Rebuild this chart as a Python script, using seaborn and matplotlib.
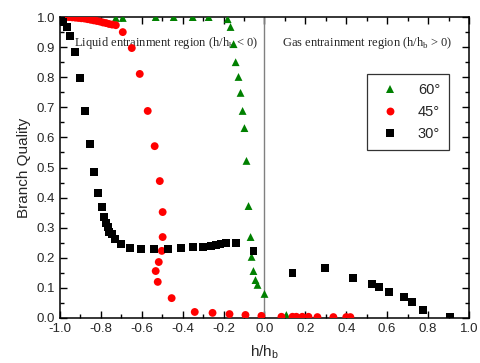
import numpy as np
import pandas as pd
import matplotlib
matplotlib.use("Agg")
import matplotlib.pyplot as plt
from matplotlib.ticker import MultipleLocator
import seaborn as sns

# %% Data (h/h_b vs branch quality)
x_60 = [-0.727, -0.693, -0.532, -0.444, -0.351, -0.273, -0.180, -0.166, -0.151,
        -0.141, -0.127, -0.117, -0.107, -0.098, -0.088, -0.078, -0.068, -0.063,
        -0.054, -0.044, -0.034, 0.000, 0.107]
y_60 = [0.997, 0.997, 1.000, 1.000, 1.000, 1.000, 0.993, 0.967, 0.910,
        0.850, 0.801, 0.748, 0.688, 0.631, 0.522, 0.372, 0.269, 0.203,
        0.156, 0.126, 0.110, 0.080, 0.010]

x_45 = [-0.985, -0.97, -0.955, -0.94, -0.925, -0.91, -0.895, -0.88, -0.865, -0.85,
        -0.835, -0.82, -0.805, -0.79, -0.775, -0.76, -0.745, -0.727, -0.693,
        -0.649, -0.610, -0.571, -0.537, -0.512, -0.498, -0.498, -0.502, -0.517,
        -0.532, -0.522, -0.454, -0.341, -0.254, -0.171, -0.093, -0.015,
        0.083, 0.137, 0.156, 0.185, 0.215, 0.259, 0.337, 0.400, 0.420]
y_45 = [1.000, 1.000, 1.000, 0.999, 0.998, 0.997, 0.996, 0.995, 0.993, 0.991,
        0.989, 0.987, 0.985, 0.982, 0.980, 0.977, 0.975, 0.973, 0.950,
        0.897, 0.811, 0.688, 0.571, 0.455, 0.352, 0.269, 0.223, 0.186,
        0.156, 0.120, 0.066, 0.020, 0.017, 0.013, 0.010, 0.007,
        0.004, 0.004, 0.004, 0.004, 0.004, 0.003, 0.003, 0.003, 0.003]

x_30 = [-0.995, -0.985, -0.966, -0.951, -0.927, -0.902, -0.878, -0.854, -0.834,
        -0.815, -0.795, -0.785, -0.776, -0.766, -0.761, -0.746, -0.732, -0.702,
        -0.659, -0.605, -0.541, -0.473, -0.410, -0.351, -0.302, -0.263, -0.239,
        -0.215, -0.190, -0.141, -0.054,
        0.137, 0.298, 0.434, 0.527, 0.561, 0.610, 0.683, 0.722, 0.776, 0.907]
y_30 = [0.990, 0.983, 0.967, 0.937, 0.884, 0.797, 0.688, 0.578, 0.485,
        0.415, 0.369, 0.336, 0.316, 0.302, 0.286, 0.279, 0.262, 0.246,
        0.233, 0.229, 0.229, 0.229, 0.233, 0.236, 0.236, 0.239, 0.243,
        0.246, 0.249, 0.249, 0.223,
        0.150, 0.166, 0.133, 0.113, 0.103, 0.086, 0.070, 0.053, 0.027, 0.003]

angles = ["60°", "45°", "30°"]
colors = {"60°": "#008000", "45°": "#ff0000", "30°": "#000000"}
markers = {"60°": "^", "45°": "o", "30°": "s"}

df = pd.concat([
    pd.DataFrame({"h": x_60, "q": y_60, "angle": "60°"}),
    pd.DataFrame({"h": x_45, "q": y_45, "angle": "45°"}),
    pd.DataFrame({"h": x_30, "q": y_30, "angle": "30°"}),
], ignore_index=True)

# %% Style
sns.set_style("ticks")
plt.rcParams["font.family"] = ["Liberation Sans", "DejaVu Sans"]
plt.rcParams["mathtext.fontset"] = "custom"
plt.rcParams["mathtext.rm"] = "Liberation Sans"
plt.rcParams["mathtext.it"] = "Liberation Sans"

fig, ax = plt.subplots(figsize=(4.8, 3.63), dpi=100)
fig.subplots_adjust(left=0.125, right=0.977, top=0.953, bottom=0.124)

sns.scatterplot(data=df, x="h", y="q", hue="angle", style="angle",
                hue_order=angles, style_order=angles,
                palette=colors, markers=markers, s=32, linewidth=0,
                ax=ax, legend=True, zorder=3)

ax.axvline(0, color="#808080", linewidth=1.0, zorder=1)

ax.set_xlim(-1.0, 1.0)
ax.set_ylim(0.0, 1.0)
ax.xaxis.set_major_locator(MultipleLocator(0.2))
ax.xaxis.set_minor_locator(MultipleLocator(0.1))
ax.yaxis.set_major_locator(MultipleLocator(0.1))
ax.yaxis.set_minor_locator(MultipleLocator(0.05))
ax.set_xticklabels([f"{v:.1f}" for v in ax.get_xticks()])
ax.set_yticklabels([f"{v:.1f}" for v in ax.get_yticks()])
ax.tick_params(which="both", direction="in", top=True, right=True,
               labelsize=9.5, width=1, color="black")
ax.tick_params(which="major", length=5)
ax.tick_params(which="minor", length=3)
for sp in ax.spines.values():
    sp.set_visible(True)
    sp.set_linewidth(1.1)
    sp.set_color("black")

ax.set_xlabel("h/h$_\\mathregular{b}$", fontsize=11, labelpad=6)
ax.set_ylabel("Branch Quality", fontsize=11, labelpad=4)

serif = ["Liberation Serif", "DejaVu Serif"]
ax.text(-0.93, 0.914, "Liquid entrainment region (h/h$_\\mathregular{b}$ < 0)",
        fontsize=9, family=serif, va="center", ha="left", zorder=2)
ax.text(0.088, 0.914, "Gas entrainment region (h/h$_\\mathregular{b}$ > 0)",
        fontsize=9, family=serif, va="center", ha="left", zorder=2)

handles, labels = ax.get_legend_handles_labels()
leg = ax.legend(handles, labels, loc="upper left", bbox_to_anchor=(0.75, 0.81),
                borderaxespad=0, fontsize=10.5, frameon=True, fancybox=False,
                edgecolor="black", handletextpad=0.9, borderpad=0.6,
                labelspacing=0.55, markerscale=1.0)
leg.get_frame().set_linewidth(0.9)

fig.savefig("out.png", dpi=100)
